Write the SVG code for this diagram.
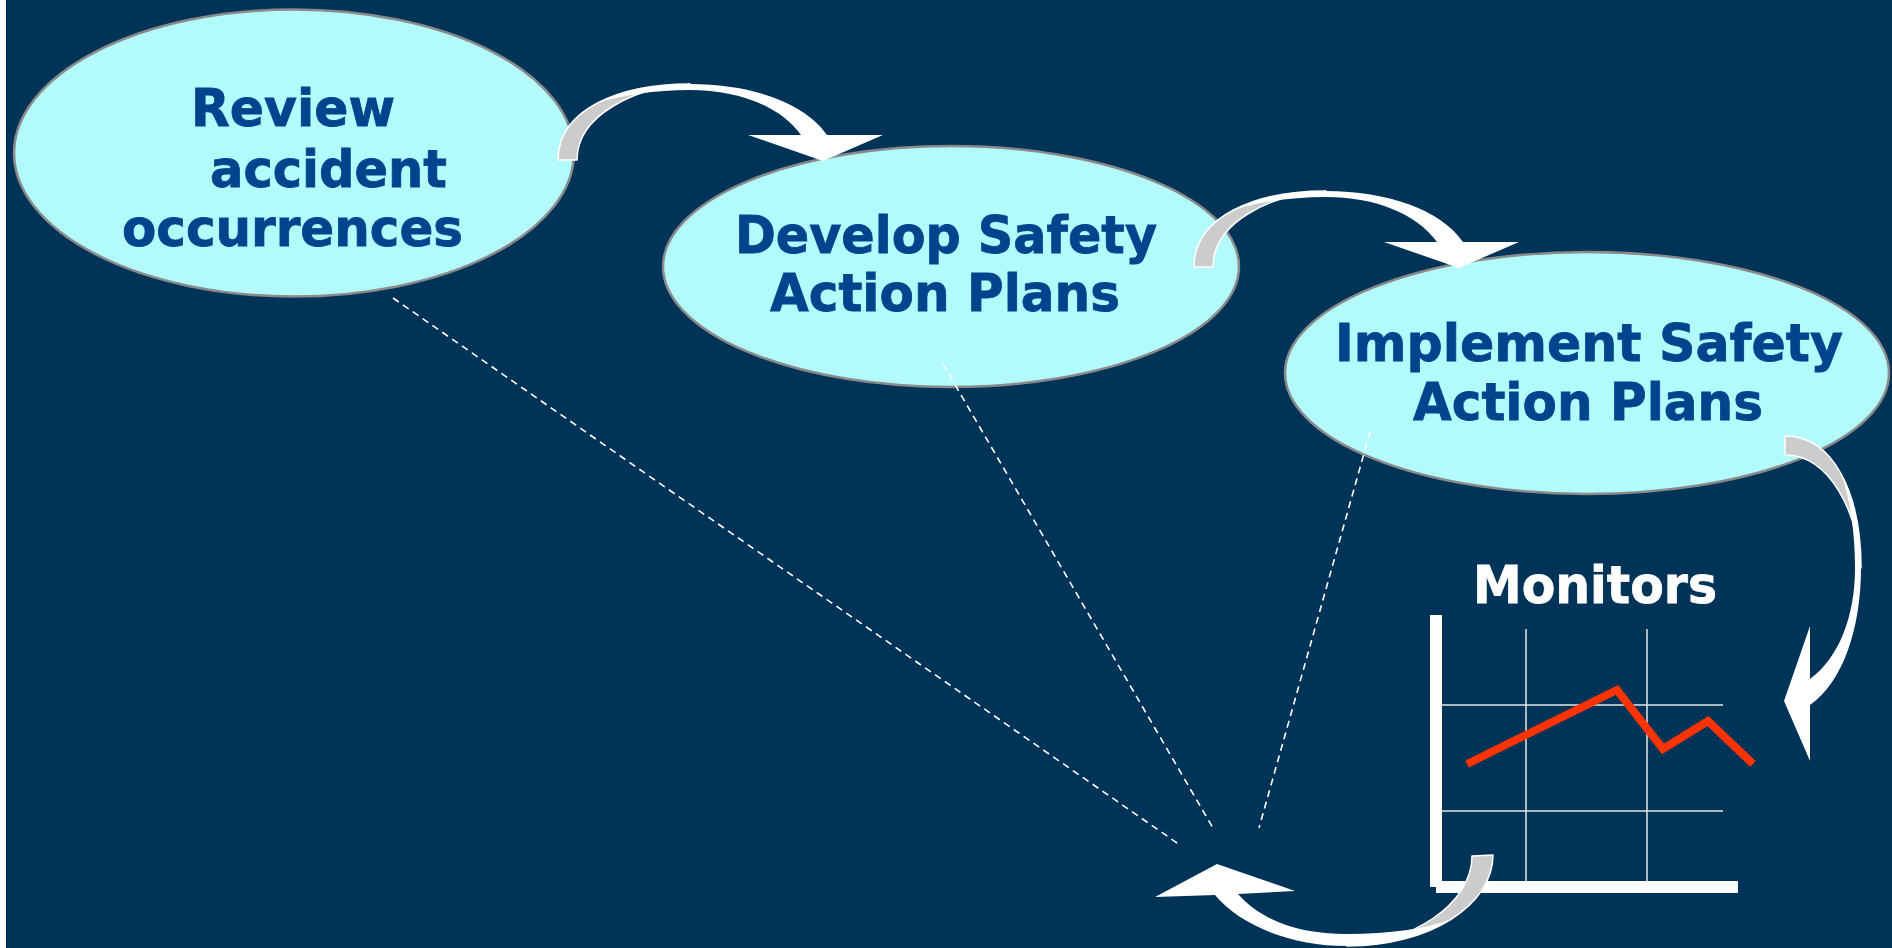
<svg xmlns="http://www.w3.org/2000/svg" xmlns:xlink="http://www.w3.org/1999/xlink" width="1892" height="948" viewBox="0 0 1892 948">
<style>
.node ellipse{fill:#B3FAFD;stroke:#8A8A8A;stroke-width:2.5}
.lbl{font-family:"DejaVu Sans","Liberation Sans",sans-serif;font-weight:bold;font-size:52px;fill:#00448E;stroke:#00448E;stroke-width:0.8}
.dash{stroke:#FFFFFF;stroke-width:1.6;stroke-dasharray:7 5;fill:none}
.tail{fill:#CCCCCC;stroke:#FFFFFF;stroke-width:1.5;stroke-linejoin:round}
.front{fill:#FFFFFF}
.grid{stroke:#E6E6E6;stroke-width:1.5}
</style>
<defs>
<g id="curvedArrow">
<path class="tail" d="M558,160 C558,110 618,84 690,84 C635,87 577,115 577,160 Z"/>
<path class="front" d="M597,103.3 C621,90.5 654,84 690,84 C752,84 805,103 827,135 L883,135 L823,161 L748,135 L801,135 C780,106 738,90 690,90 C655,90 622,95 597,103.3 Z"/>
</g>
</defs>
<rect x="0" y="0" width="1892" height="948" fill="#003358"/>
<rect x="0" y="0" width="6" height="948" fill="#FFFFFF"/>

<g id="review" class="node">
<ellipse cx="294" cy="153" rx="280" ry="143.5"/>
<text class="lbl" x="191" y="126" textLength="204" lengthAdjust="spacingAndGlyphs">Review</text>
<text class="lbl" x="210" y="187" textLength="237" lengthAdjust="spacingAndGlyphs">accident</text>
<text class="lbl" x="122" y="246" textLength="341" lengthAdjust="spacingAndGlyphs">occurrences</text>
</g>

<g id="develop" class="node">
<ellipse cx="951" cy="266.5" rx="288" ry="120.5"/>
<text class="lbl" x="735" y="253" textLength="422" lengthAdjust="spacingAndGlyphs">Develop Safety</text>
<text class="lbl" x="770" y="311" textLength="350" lengthAdjust="spacingAndGlyphs">Action Plans</text>
</g>

<g id="implement" class="node">
<ellipse cx="1587" cy="373" rx="302" ry="121"/>
<text class="lbl" x="1335" y="361" textLength="508" lengthAdjust="spacingAndGlyphs">Implement Safety</text>
<text class="lbl" x="1413" y="420" textLength="350" lengthAdjust="spacingAndGlyphs">Action Plans</text>
</g>

<g id="monitors">
<text x="1473" y="603" textLength="244" lengthAdjust="spacingAndGlyphs" style="font-family:'DejaVu Sans','Liberation Sans',sans-serif;font-weight:bold;font-size:52px;fill:#FFFFFF;stroke:#FFFFFF;stroke-width:0.8">Monitors</text>
<line class="grid" x1="1526" y1="629" x2="1526" y2="881"/>
<line class="grid" x1="1647" y1="629" x2="1647" y2="881"/>
<line class="grid" x1="1442" y1="705" x2="1723" y2="705"/>
<line class="grid" x1="1442" y1="811" x2="1723" y2="811"/>
<rect x="1430" y="615" width="12" height="272" fill="#FFFFFF"/>
<rect x="1436" y="881" width="302" height="12" fill="#FFFFFF"/>
<polyline points="1467,764 1617,690 1663,749 1708,721 1753,764" fill="none" stroke="#FF3300" stroke-width="8" stroke-linejoin="miter"/>
</g>

<g id="connectors">
<line class="dash" x1="393" y1="298" x2="1180" y2="845"/>
<line class="dash" x1="943" y1="364" x2="1213" y2="828"/>
<line class="dash" x1="1370" y1="432" x2="1259" y2="828"/>
<use xlink:href="#curvedArrow" href="#curvedArrow"/>
<use xlink:href="#curvedArrow" href="#curvedArrow" transform="translate(636,107)"/>
<use xlink:href="#curvedArrow" href="#curvedArrow" transform="translate(1945,-122) rotate(90)"/>
<g id="arrow4">
<path class="tail" d="M1493,855 C1493,905 1430,946 1347,946 C1410,943 1472,905 1472,856 Z"/>
<path class="front" d="M1451.1,919.3 C1425,935.8 1388.5,946 1347,946 C1290,946 1240,925 1215,895 L1155,897 L1217,864 L1295,891 L1238,894 C1262,921 1300,934 1347,934 C1390,934 1425,929 1451.1,919.3 Z"/>
</g>
</g>
</svg>
